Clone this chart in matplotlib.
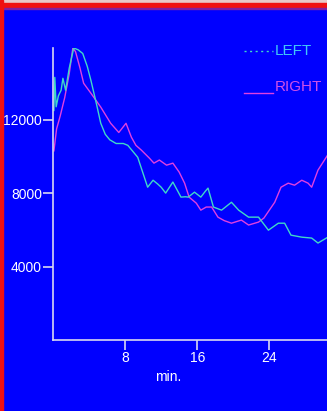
import matplotlib.pyplot as plt
from matplotlib.patches import Rectangle

plt.rcParams['font.family'] = ['Liberation Sans', 'DejaVu Sans']

# minutes / values
left_t = [0.1, 0.2, 0.35, 0.6, 0.9, 1.1, 1.4, 1.8, 2.3, 2.8, 3.3, 3.8, 4.2, 4.8, 5.3,
          5.8, 6.3, 7.0, 7.8, 8.3, 9.4, 10.5, 11.1, 11.6, 12.0, 12.5, 13.3, 14.2, 14.7,
          15.0, 15.7, 16.4, 16.9, 17.2, 17.8, 18.7, 19.8, 20.6, 21.7, 22.8, 23.9, 25.0,
          25.7, 26.4, 27.6, 28.7, 29.4, 30.5]
left_v = [12500, 14300, 12700, 13300, 13600, 14250, 13600, 14800, 15900, 15800, 15600,
          14900, 14150, 12900, 11800, 11200, 10900, 10700, 10700, 10600, 9950, 8320,
          8700, 8500, 8320, 8000, 8600, 7780, 7800, 7780, 8050, 7780, 8100, 8270, 7240,
          7070, 7500, 7070, 6690, 6690, 5980, 6360, 6360, 5710, 5600, 5550, 5280, 5600]

right_t = [0.1, 0.4, 0.8, 1.3, 1.8, 2.2, 2.5, 3.0, 3.4, 4.2, 5.3, 6.4, 7.3, 8.1, 8.7,
           9.2, 9.8, 10.7, 11.2, 11.8, 12.6, 13.3, 14.0, 14.6, 15.1, 15.9, 16.4, 17.0,
           17.6, 18.3, 19.0, 19.8, 20.9, 21.7, 22.8, 23.4, 24.6, 25.3, 26.1, 26.8, 27.6,
           28.3, 28.7, 29.4, 30.6]
right_v = [10300, 11500, 12200, 13200, 14500, 15900, 15700, 14800, 13980, 13440, 12680,
           11800, 11300, 11800, 11040, 10600, 10340, 9900, 9630, 9800, 9520, 9630, 9140,
           8540, 7780, 7450, 7070, 7240, 7240, 6690, 6500, 6360, 6530, 6260, 6420, 6640,
           7500, 8320, 8540, 8430, 8700, 8540, 8320, 9250, 10170]

y_ticks = [4000, 8000, 12000]
x_ticks = [8, 16, 24]

W, H = 327, 411
fig = plt.figure(figsize=(W / 100, H / 100), dpi=100, facecolor='#0000FF')

# window frame
fig.patches.append(Rectangle((0, 1 - 3 / H), 1, 3 / H, transform=fig.transFigure,
                             color='#E8C8C8', zorder=0))
fig.patches.append(Rectangle((0, 1 - 8 / H), 1, 5 / H, transform=fig.transFigure,
                             color='#F01010', zorder=0))
fig.patches.append(Rectangle((0, 1 - 9 / H), 1, 1 / H, transform=fig.transFigure,
                             color='#8020A0', zorder=0))
fig.patches.append(Rectangle((0, 0), 3 / W, 1, transform=fig.transFigure,
                             color='#F01010', zorder=0))

ax = fig.add_axes([53 / W, (H - 340) / H, 1 - 53 / W, (340 - 48) / H])
ax.set_facecolor('#0000FF')

ax.plot(right_t, right_v, color='#E040E0', lw=1.0)
ax.plot(left_t, left_v, color='#40D8C8', lw=1.0)

ax.set_xlim(0, 30.4)
ax.set_ylim(0, 15900)
ax.set_xticks(x_ticks)
ax.set_yticks(y_ticks)

for s in ['top', 'right']:
    ax.spines[s].set_visible(False)
for s in ['left', 'bottom']:
    ax.spines[s].set_color('#D8D8F0')
    ax.spines[s].set_linewidth(1.2)
ax.tick_params(colors='#D8D8F0', labelcolor='white', length=7, width=1.2,
               labelsize=10, pad=1)

ax.text(12.8, -2000, 'min.', color='white', fontsize=10, ha='center', va='center')

# legend drawn by hand like the original
ax.plot([21.2, 24.4], [15900 - 3 * 54.4, 15900 - 3 * 54.4], ls=(0, (1.5, 2.5)),
        color='#40D8C8', lw=1.0, clip_on=False)
ax.text(24.6, 15900 - 3 * 54.4, 'LEFT', color='#40C8F8', fontsize=11,
        va='center', ha='left')
ax.plot([21.2, 24.4], [15900 - 45 * 54.4, 15900 - 45 * 54.4], color='#E040E0',
        lw=1.0, clip_on=False)
ax.text(24.6, 15900 - 39 * 54.4, 'RIGHT', color='#D050E8', fontsize=11,
        va='center', ha='left')

fig.savefig('out.png', dpi=100, facecolor=fig.get_facecolor())
